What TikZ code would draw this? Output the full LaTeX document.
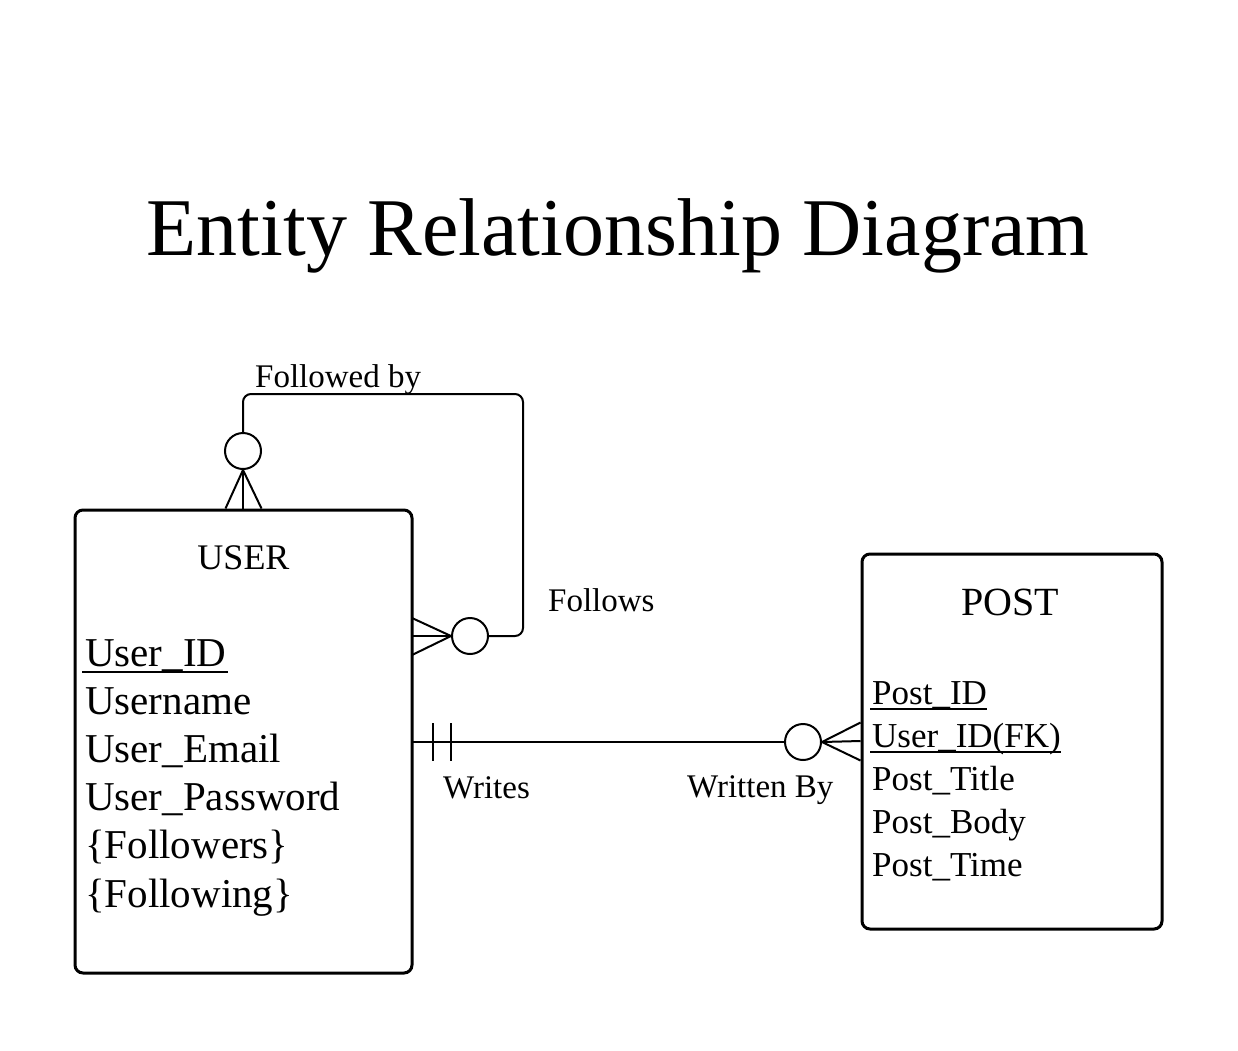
\documentclass[tikz,border=0pt]{standalone}
\usepackage{fontspec}
\setmainfont{Liberation Serif}
\begin{document}
\begin{tikzpicture}[x=1pt,y=-1pt,
  entity/.style={draw, line width=3pt, rounded corners=8pt, inner sep=0pt},
  conn/.style={line width=2pt},
  ring/.style={circle, draw, line width=2pt, minimum size=36pt, inner sep=0pt},
  attr/.style={anchor=base west, inner sep=0pt, font=\fontsize{41}{46}\selectfont},
  pattr/.style={anchor=base west, inner sep=0pt, font=\fontsize{35}{40}\selectfont},
  lbl/.style={anchor=base west, inner sep=0pt, font=\fontsize{33}{37}\selectfont},
  etitle/.style={anchor=base, inner sep=0pt}
]
\useasboundingbox[fill=white] (0,0) rectangle (1238,1050);

% title
\node[anchor=base, inner sep=0pt, font=\fontsize{82}{90}\selectfont] (title) at (618,255) {Entity Relationship Diagram};

% entities
\node[entity, minimum width=337pt, minimum height=463pt] (user) at (243.5,741.5) {};
\node[entity, minimum width=300pt, minimum height=375pt] (post) at (1012,741.5) {};

% USER contents
\node[etitle, font=\fontsize{36}{40}\selectfont] (utitle) at (243.5,569) {USER};
\node[attr] (uid) at (85,666) {User\_ID};
\node[attr] (uname) at (85,714) {Username};
\node[attr] (uemail) at (85,762) {User\_Email};
\node[attr] (upass) at (85,810) {User\_Password};
\node[attr] (ufol) at (85,858) {\{Followers\}};
\node[attr] (ufing) at (85,907) {\{Following\}};
\draw[line width=2pt] ([shift={(-3pt,-6pt)}]uid.base west) -- ([shift={(1pt,-6pt)}]uid.base east);

% POST contents
\node[etitle, font=\fontsize{40}{44}\selectfont] (ptitle) at (1010,615) {POST};
\node[pattr] (pid) at (872,704) {Post\_ID};
\node[pattr] (pfk) at (872,747) {User\_ID(FK)};
\node[pattr] (ptit) at (872,790) {Post\_Title};
\node[pattr] (pbody) at (872,833) {Post\_Body};
\node[pattr] (ptime) at (872,876) {Post\_Time};
\draw[line width=2pt] ([shift={(-2pt,-5pt)}]pid.base west) -- ([shift={(0pt,-5pt)}]pid.base east);
\draw[line width=2pt] ([shift={(-2pt,-5pt)}]pfk.base west) -- ([shift={(0pt,-5pt)}]pfk.base east);

% labels
\node[lbl] (lfb) at (255,387) {Followed by};
\node[lbl] (lfo) at (548,611) {Follows};
\node[lbl] (lwr) at (443,798) {Writes};
\node[lbl] (lwb) at (687,797) {Written By};

% rings
\node[ring] (c1) at (243,451) {};
\node[ring] (c2) at (470,636) {};
\node[ring] (c3) at (803,742) {};

% self relationship loop
\coordinate (tr) at (523,394);
\draw[conn, rounded corners=8pt] (c2.east) -| (tr) -| (c1.north);
% crow's foot on top of USER
\draw[conn] (c1.south) -- ([xshift=-18pt]user.north);
\draw[conn] (c1.south) -- ([xshift=-0.5pt]user.north);
\draw[conn] (c1.south) -- ([xshift=18pt]user.north);
% crow's foot on right of USER
\coordinate (fa) at (412,618);
\coordinate (fb) at (412,636);
\coordinate (fc) at (412,655);
\draw[conn] (fa) -- (c2.west);
\draw[conn] (fb) -- (c2.west);
\draw[conn] (fc) -- (c2.west);

% writes relationship
\coordinate (w0) at (412,742);
\draw[conn] (w0) -- (c3.west);
\coordinate (t1a) at (433,723);
\coordinate (t1b) at (433,761);
\coordinate (t2a) at (451,723);
\coordinate (t2b) at (451,761);
\draw[conn] (t1a) -- (t1b);
\draw[conn] (t2a) -- (t2b);
\draw[conn] (c3.east) -- ([yshift=-19pt]post.west);
\draw[conn] (c3.east) -- ([yshift=0.5pt]post.west);
\draw[conn] (c3.east) -- ([yshift=19pt]post.west);
\end{tikzpicture}
\end{document}
